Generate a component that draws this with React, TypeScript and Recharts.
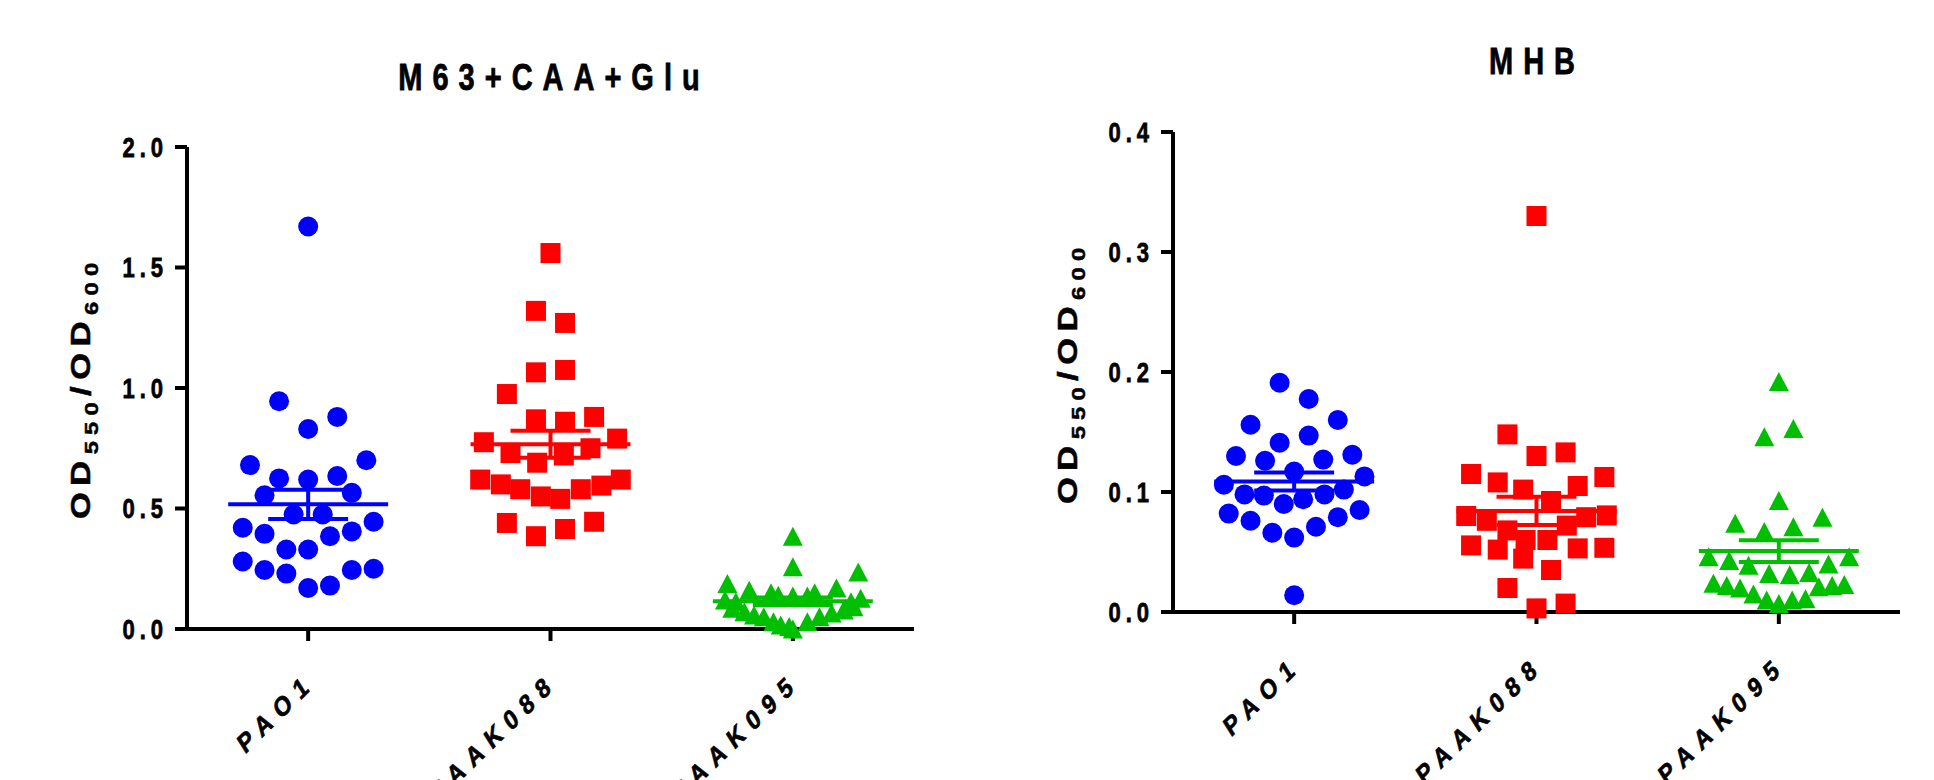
import React from 'react';
import { ScatterChart, Scatter, XAxis, YAxis, ReferenceLine } from 'recharts';

const strains = ['PAO1', 'PAAK088', 'PAAK095'];

// M63+CAA+Glu panel (x = jitter in category units)
const m63Pao1 = [1.67, 0.945, 0.88, 0.83, 0.68, 0.7, 0.625, 0.62, 0.635, 0.555, 0.565, 0.475, 0.475, 0.42, 0.395, 0.385, 0.405, 0.445, 0.33, 0.33, 0.28, 0.245, 0.23, 0.245, 0.25, 0.17, 0.18];
const m63Pao1X = [0, -0.12, 0.12, 0, -0.24, 0.24, -0.12, 0, 0.12, -0.18, 0.18, -0.06, 0.06, -0.27, -0.18, 0.09, 0.18, 0.27, -0.09, 0, -0.27, -0.18, -0.09, 0.18, 0.27, 0, 0.09];
const m63Paak088 = [1.56, 1.32, 1.27, 1.065, 1.075, 0.975, 0.87, 0.86, 0.88, 0.775, 0.79, 0.73, 0.69, 0.72, 0.75, 0.62, 0.6, 0.58, 0.55, 0.54, 0.58, 0.595, 0.62, 0.44, 0.385, 0.415, 0.445];
const m63Paak088X = [0, -0.06, 0.06, -0.06, 0.06, -0.18, -0.06, 0.06, 0.18, -0.275, 0.275, -0.165, -0.055, 0.055, 0.165, -0.29, -0.205, -0.125, -0.04, 0.04, 0.125, 0.21, 0.29, -0.18, -0.06, 0.06, 0.18];
const m63Paak095 = [0.385, 0.258, 0.237, 0.189, 0.161, 0.15, 0.14, 0.137, 0.137, 0.15, 0.17, 0.128, 0.12, 0.113, 0.113, 0.086, 0.072, 0.092, 0.079, 0.058, 0.051, 0.066, 0.051, 0.03, 0.017, 0.01, 0.03, 0.0];
const m63Paak095X = [0, 0, 0.27, -0.27, -0.18, -0.09, -0.06, 0, 0.06, 0.09, 0.18, 0.28, -0.28, -0.235, 0.24, -0.25, -0.2, 0.25, 0.21, -0.16, -0.12, 0.16, 0.11, -0.08, -0.05, -0.015, 0.06, 0];

// MHB panel
const mhbPao1 = [0.191, 0.1775, 0.156, 0.16, 0.141, 0.147, 0.13, 0.126, 0.127, 0.131, 0.117, 0.113, 0.106, 0.098, 0.097, 0.09, 0.094, 0.098, 0.102, 0.082, 0.076, 0.079, 0.085, 0.066, 0.062, 0.071, 0.014];
const mhbPao1X = [-0.06, 0.06, -0.18, 0.18, -0.06, 0.06, -0.24, -0.12, 0.12, 0.24, 0, 0.29, -0.29, -0.205, -0.125, -0.043, 0.037, 0.125, 0.205, -0.27, -0.18, 0.18, 0.27, -0.09, 0, 0.09, 0];
const mhbPaak088 = [0.33, 0.148, 0.13, 0.133, 0.115, 0.108, 0.102, 0.0925, 0.105, 0.1125, 0.08, 0.076, 0.068, 0.06, 0.06, 0.072, 0.079, 0.0805, 0.0555, 0.052, 0.0445, 0.053, 0.0535, 0.035, 0.02, 0.003, 0.007];
const mhbPaak088X = [0, -0.12, 0, 0.12, -0.27, -0.16, -0.055, 0.06, 0.17, 0.28, -0.29, -0.205, -0.12, -0.045, 0.045, 0.125, 0.205, 0.29, -0.27, -0.16, -0.055, 0.17, 0.28, 0.06, -0.12, 0, 0.12];
const mhbPaak095 = [0.192, 0.146, 0.153, 0.093, 0.074, 0.079, 0.067, 0.071, 0.046, 0.043, 0.039, 0.04, 0.046, 0.032, 0.031, 0.033, 0.024, 0.022, 0.02, 0.015, 0.021, 0.022, 0.023, 0.01, 0.007, 0.01, 0.011];
const mhbPaak095X = [0, -0.06, 0.06, 0, -0.18, 0.18, -0.06, 0.06, -0.29, -0.205, -0.125, 0.205, 0.29, -0.04, 0.045, 0.125, -0.27, -0.215, -0.16, -0.105, 0.165, 0.22, 0.27, -0.05, 0, 0.055, 0.11];

const m63Ticks = [0, 0.5, 1, 1.5, 2];
const mhbTicks = [0, 0.1, 0.2, 0.3, 0.4];

const BLUE = '#0000ff';
const RED = '#ff0000';
const GREEN = '#00bf00';
const FONT = 'Arial, "Liberation Sans", Helvetica, sans-serif';
const STRETCH = 1.25;

const mean = (v: number[]) => v.reduce((a, b) => a + b, 0) / v.length;
const sem = (v: number[]) => {
  const m = mean(v);
  const sd = Math.sqrt(v.reduce((a, b) => a + (b - m) * (b - m), 0) / (v.length - 1));
  return sd / Math.sqrt(v.length);
};

const toPoints = (vals: number[], xs: number[], idx: number) =>
  vals.map((y, i) => ({ x: idx + xs[i], y }));

const marker = (kind: string, color: string) => (props: any) => {
  const { cx, cy } = props;
  if (kind === 'circle') return <circle cx={cx} cy={cy} r={10} fill={color} />;
  if (kind === 'square') return <rect x={cx - 10} y={cy - 10} width={20} height={20} fill={color} />;
  return <polygon points={`${cx},${cy - 9.5} ${cx + 10},${cy + 9.5} ${cx - 10},${cy + 9.5}`} fill={color} />;
};

const YTick = (props: any) => {
  const { x, y, payload } = props;
  return (
    <text
      transform={`translate(${x - 5},${y}) scale(1,${STRETCH})`}
      textAnchor="end"
      dominantBaseline="central"
      fontFamily={FONT}
      fontWeight={900}
      fontSize={22}
      letterSpacing={5}
      stroke="#000"
      strokeWidth={0.6}
      fill="#000"
    >
      {Number(payload.value).toFixed(1)}
    </text>
  );
};

const XTick = (props: any) => {
  const { x, y, payload } = props;
  return (
    <text
      transform={`translate(${x + 8},${y + 42}) scale(1,${STRETCH}) rotate(-38)`}
      textAnchor="end"
      fontFamily={FONT}
      fontWeight={900}
      fontSize={22}
      letterSpacing={8}
      stroke="#000"
      strokeWidth={0.6}
      fill="#000"
    >
      {strains[payload.value]}
    </text>
  );
};

type Group = { values: number[]; xs: number[]; color: string; kind: string };

type PanelProps = {
  title: string;
  groups: Group[];
  ticks: number[];
  margin: { top: number; right: number; bottom: number; left: number };
  titleX: number;
  titleY: number;
  labelX: number;
  labelY: number;
};

const Panel = ({ title, groups, ticks, margin, titleX, titleY, labelX, labelY }: PanelProps) => (
  <ScatterChart width={967} height={780} margin={margin}>
    <XAxis
      type="number"
      dataKey="x"
      domain={[-0.5, 2.5]}
      ticks={[0, 1, 2]}
      height={60}
      tickSize={12}
      axisLine={{ stroke: '#000', strokeWidth: 4 }}
      tickLine={{ stroke: '#000', strokeWidth: 4 }}
      tick={<XTick />}
      interval={0}
    />
    <YAxis
      type="number"
      dataKey="y"
      domain={[0, ticks[ticks.length - 1]]}
      ticks={ticks}
      width={80}
      tickSize={12}
      axisLine={{ stroke: '#000', strokeWidth: 4 }}
      tickLine={{ stroke: '#000', strokeWidth: 4 }}
      tick={<YTick />}
      interval={0}
    />
    {groups.map((g, i) => (
      <Scatter
        key={strains[i]}
        name={strains[i]}
        data={toPoints(g.values, g.xs, i)}
        shape={marker(g.kind, g.color)}
        isAnimationActive={false}
      />
    ))}
    {groups.map((g, i) => {
      const m = mean(g.values);
      const s = sem(g.values);
      return [
        <ReferenceLine key={`mean${i}`} segment={[{ x: i - 0.33, y: m }, { x: i + 0.33, y: m }]} stroke={g.color} strokeWidth={4} />,
        <ReferenceLine key={`up${i}`} segment={[{ x: i - 0.165, y: m + s }, { x: i + 0.165, y: m + s }]} stroke={g.color} strokeWidth={4} />,
        <ReferenceLine key={`lo${i}`} segment={[{ x: i - 0.165, y: m - s }, { x: i + 0.165, y: m - s }]} stroke={g.color} strokeWidth={4} />,
        <ReferenceLine key={`bar${i}`} segment={[{ x: i, y: m - s }, { x: i, y: m + s }]} stroke={g.color} strokeWidth={4} />,
      ];
    })}
    <text
      transform={`translate(${titleX + 5},${titleY}) scale(1,${STRETCH})`}
      textAnchor="middle"
      fontFamily={FONT}
      fontWeight={900}
      fontSize={29}
      letterSpacing={10}
      stroke="#000"
      strokeWidth={0.6}
      fill="#000"
    >
      {title}
    </text>
    <text
      transform={`translate(${labelX},${labelY}) scale(1,${STRETCH}) rotate(-90)`}
      textAnchor="middle"
      fontFamily={FONT}
      fontWeight={900}
      fontSize={28}
      letterSpacing={5}
      stroke="#000"
      strokeWidth={0.5}
      fill="#000"
    >
      <tspan>OD</tspan>
      <tspan fontSize={19} dy={8}>550</tspan>
      <tspan dy={-8}>/OD</tspan>
      <tspan fontSize={19} dy={8}>600</tspan>
    </text>
  </ScatterChart>
);

const m63Groups: Group[] = [
  { values: m63Pao1, xs: m63Pao1X, color: BLUE, kind: 'circle' },
  { values: m63Paak088, xs: m63Paak088X, color: RED, kind: 'square' },
  { values: m63Paak095, xs: m63Paak095X, color: GREEN, kind: 'triangle' },
];

const mhbGroups: Group[] = [
  { values: mhbPao1, xs: mhbPao1X, color: BLUE, kind: 'circle' },
  { values: mhbPaak088, xs: mhbPaak088X, color: RED, kind: 'square' },
  { values: mhbPaak095, xs: mhbPaak095X, color: GREEN, kind: 'triangle' },
];

export default function App() {
  return (
    <div style={{ position: 'absolute', left: 0, top: 0, width: 1934, height: 780, overflow: 'hidden', background: '#fff' }}>
      <div style={{ position: 'absolute', left: 0, top: 0 }}>
        <Panel
          title="M63+CAA+Glu"
          groups={m63Groups}
          ticks={m63Ticks}
          margin={{ top: 147, right: 53, bottom: 91, left: 107 }}
          titleX={549}
          titleY={90}
          labelX={90}
          labelY={388}
        />
      </div>
      <div style={{ position: 'absolute', left: 967, top: 0 }}>
        <Panel
          title="MHB"
          groups={mhbGroups}
          ticks={mhbTicks}
          margin={{ top: 132, right: 34, bottom: 108, left: 126 }}
          titleX={565}
          titleY={74}
          labelX={110}
          labelY={373}
        />
      </div>
    </div>
  );
}
